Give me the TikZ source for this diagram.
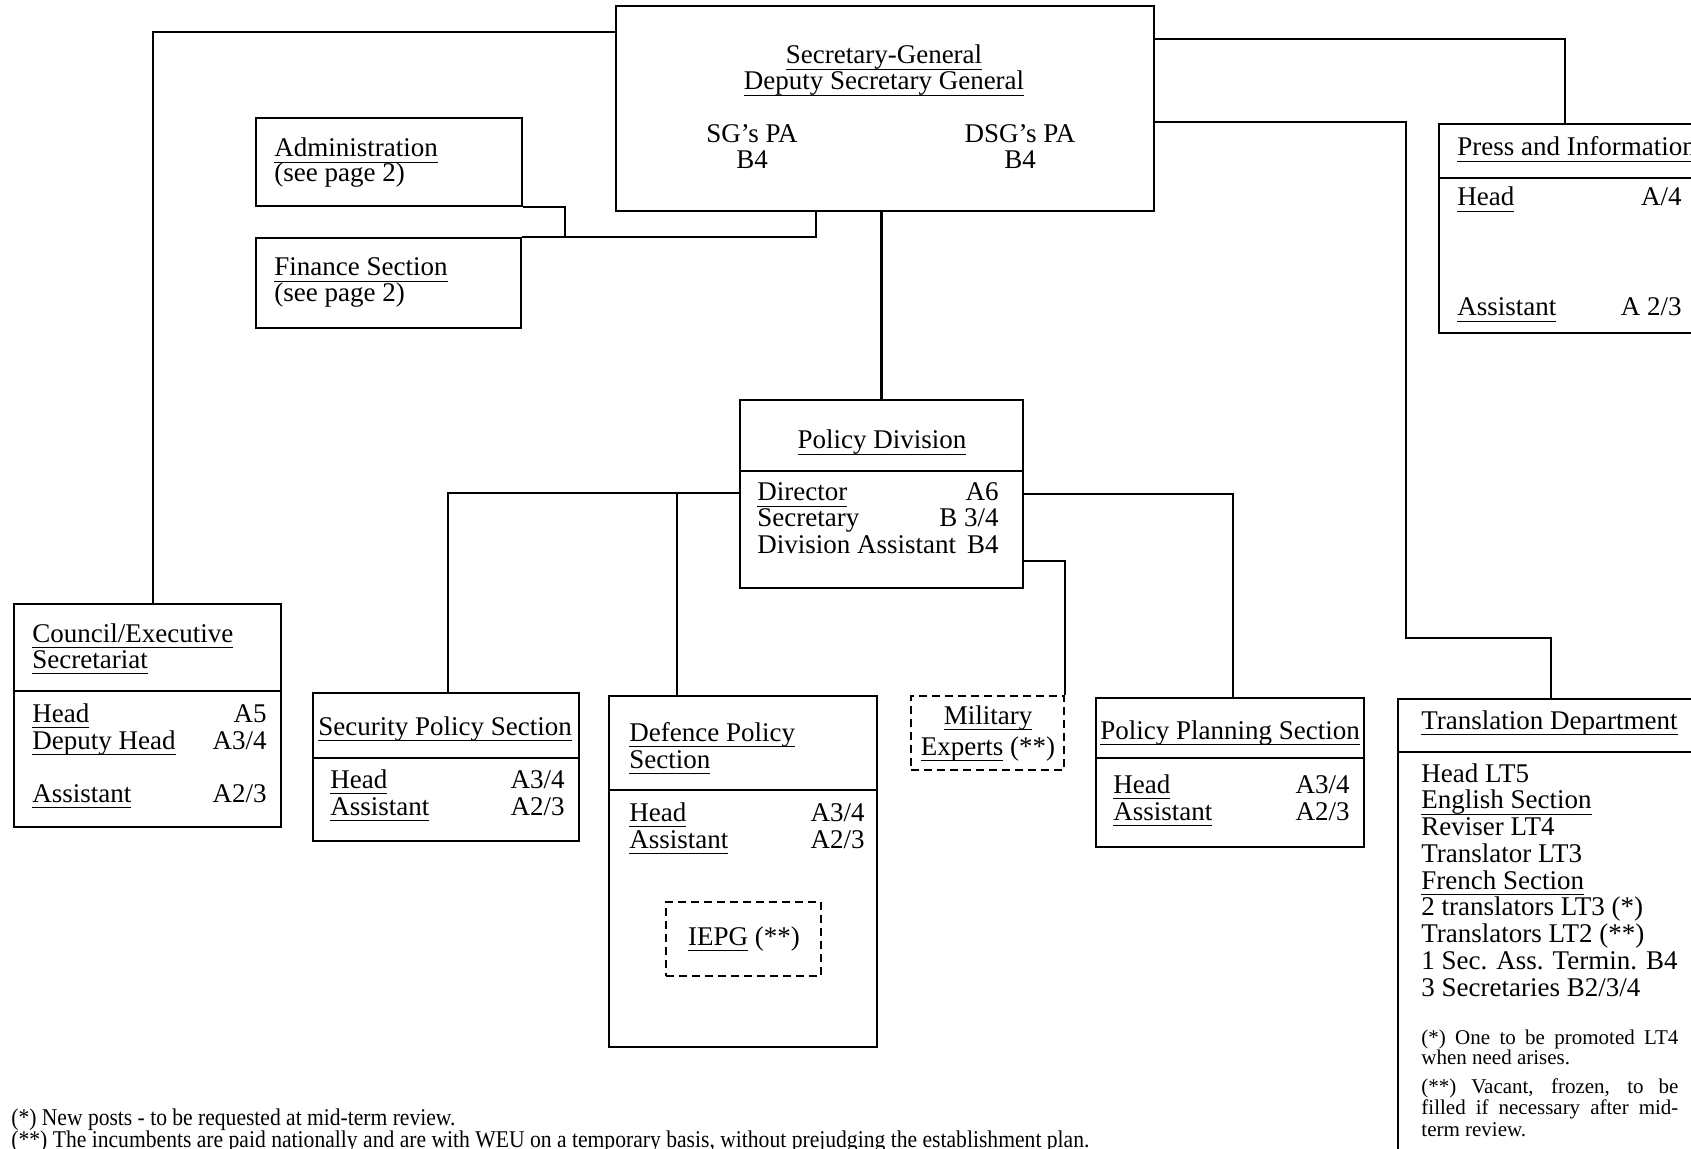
\documentclass[tikz,border=0pt]{standalone}
\usepackage{fontspec}
\usepackage{graphicx}
\setmainfont{Liberation Serif}
\usetikzlibrary{fit}
\newcommand{\uln}[1]{\underline{\raisebox{0pt}[\height][1.5pt]{#1}}}
\tikzset{
  unit box/.style={draw, line width=1.1pt, inner sep=0pt},
  dashed box/.style={draw, dash pattern=on 4pt off 2.5pt, line width=1.1pt, inner sep=0pt},
  link/.style={line width=1.1pt},
  rule line/.style={line width=1.1pt},
  lbl/.style={font=\fontsize{13.5}{13.4}\selectfont, inner sep=0pt},
  note/.style={font=\fontsize{10.5}{10}\selectfont, inner sep=0pt},
  foot/.style={font=\fontsize{12}{12}\selectfont, inner sep=0pt}
}
\begin{document}
\begin{tikzpicture}[x=0.5pt, y=-0.5pt]
  \useasboundingbox (0,0) rectangle (1691,1149);
  \clip (0,0) rectangle (1691,1149);

  % Secretary-General
  \node[unit box, fit={(616,6) (1154,211)}] (sg) {};
  \node[lbl, anchor=base] (sg-t1) at (884,64) {\uln{Secretary-General}};
  \node[lbl, anchor=base] (sg-t2) at (884,90) {\uln{Deputy Secretary General}};
  \node[lbl, anchor=base] (sg-pa) at (752,143) {SG's PA};
  \node[lbl, anchor=base] (sg-pag) at (752,169) {B4};
  \node[lbl, anchor=base] (dsg-pa) at (1020,143) {DSG's PA};
  \node[lbl, anchor=base] (dsg-pag) at (1020,169) {B4};

  % Administration and Finance
  \node[unit box, fit={(256,118) (522,206)}] (adm) {};
  \node[lbl, anchor=base west] (adm-t1) at (274,157) {\uln{Administration}};
  \node[lbl, anchor=base west] (adm-t2) at (274,182) {(see page 2)};
  \node[unit box, fit={(256,238) (521,328)}] (fin) {};
  \node[lbl, anchor=base west] (fin-t1) at (274,276) {\uln{Finance Section}};
  \node[lbl, anchor=base west] (fin-t2) at (274,302) {(see page 2)};

  % Policy Division
  \node[unit box, fit={(740,400) (1023,588)}] (pol) {};
  \draw[rule line] (pol.west |- 0,471) -- (pol.east |- 0,471);
  \node[lbl, anchor=base] (pol-t) at (882,449) {\uln{Policy Division}};
  \node[lbl, anchor=base west] (pol-r1) at (757,501) {\uln{Director}};
  \node[lbl, anchor=base east] (pol-g1) at (999,501) {A6};
  \node[lbl, anchor=base west] (pol-r2) at (757,527) {Secretary};
  \node[lbl, anchor=base east] (pol-g2) at (999,527) {B 3/4};
  \node[lbl, anchor=base west] (pol-r3) at (757,553) {Division Assistant};
  \node[lbl, anchor=base east] (pol-g3) at (999,553) {B4};

  % Council/Executive Secretariat
  \node[unit box, fit={(14,604) (281,827)}] (cou) {};
  \draw[rule line] (cou.west |- 0,691) -- (cou.east |- 0,691);
  \node[lbl, anchor=base west] (cou-t1) at (32,642) {\uln{Council/Executive}};
  \node[lbl, anchor=base west] (cou-t2) at (32,668) {\uln{Secretariat}};
  \node[lbl, anchor=base west] (cou-r1) at (32,722) {\uln{Head}};
  \node[lbl, anchor=base east] (cou-g1) at (267,722) {A5};
  \node[lbl, anchor=base west] (cou-r2) at (32,749) {\uln{Deputy Head}};
  \node[lbl, anchor=base east] (cou-g2) at (267,749) {A3/4};
  \node[lbl, anchor=base west] (cou-r3) at (32,802) {\uln{Assistant}};
  \node[lbl, anchor=base east] (cou-g3) at (267,802) {A2/3};

  % Security Policy Section
  \node[unit box, fit={(313,693) (579,841)}] (sec) {};
  \draw[rule line] (sec.west |- 0,758) -- (sec.east |- 0,758);
  \node[lbl, anchor=base] (sec-t) at (445,735) {\uln{Security Policy Section}};
  \node[lbl, anchor=base west] (sec-r1) at (330,788) {\uln{Head}};
  \node[lbl, anchor=base east] (sec-g1) at (565,788) {A3/4};
  \node[lbl, anchor=base west] (sec-r2) at (330,815) {\uln{Assistant}};
  \node[lbl, anchor=base east] (sec-g2) at (565,815) {A2/3};

  % Defence Policy Section
  \node[unit box, fit={(609,696) (877,1047)}] (def) {};
  \draw[rule line] (def.west |- 0,790) -- (def.east |- 0,790);
  \node[lbl, anchor=base west] (def-t1) at (629,741) {\uln{Defence Policy}};
  \node[lbl, anchor=base west] (def-t2) at (629,768) {\uln{Section}};
  \node[lbl, anchor=base west] (def-r1) at (629,821) {\uln{Head}};
  \node[lbl, anchor=base east] (def-g1) at (865,821) {A3/4};
  \node[lbl, anchor=base west] (def-r2) at (629,848) {\uln{Assistant}};
  \node[lbl, anchor=base east] (def-g2) at (865,848) {A2/3};
  \node[dashed box, fit={(666,902) (821,976)}] (iepg) {};
  \node[lbl, anchor=base] (iepg-t) at (744,945) {\uln{IEPG} (**)};

  % Military Experts
  \node[dashed box, fit={(911,696) (1064,770)}] (mil) {};
  \node[lbl, anchor=base] (mil-t1) at (988,724) {\uln{Military}};
  \node[lbl, anchor=base] (mil-t2) at (988,755) {\uln{Experts} (**)};

  % Policy Planning Section
  \node[unit box, fit={(1096,698) (1364,847)}] (plan) {};
  \draw[rule line] (plan.west |- 0,758) -- (plan.east |- 0,758);
  \node[lbl, anchor=base] (plan-t) at (1230,739) {\uln{Policy Planning Section}};
  \node[lbl, anchor=base west] (plan-r1) at (1113,793) {\uln{Head}};
  \node[lbl, anchor=base east] (plan-g1) at (1350,793) {A3/4};
  \node[lbl, anchor=base west] (plan-r2) at (1113,820) {\uln{Assistant}};
  \node[lbl, anchor=base east] (plan-g2) at (1350,820) {A2/3};

  % Press and Information (runs off the page)
  \node[unit box, fit={(1439,124) (1730,333)}] (press) {};
  \draw[rule line] (press.west |- 0,178) -- (press.east |- 0,178);
  \node[lbl, anchor=base west] (press-t) at (1457,156) {\uln{Press and Information}};
  \node[lbl, anchor=base west] (press-r1) at (1457,206) {\uln{Head}};
  \node[lbl, anchor=base east] (press-g1) at (1682,206) {A/4};
  \node[lbl, anchor=base west] (press-r2) at (1457,316) {\uln{Assistant}};
  \node[lbl, anchor=base east] (press-g2) at (1682,316) {A 2/3};

  % Translation Department (runs off the page)
  \node[unit box, fit={(1398,699) (1730,1190)}] (tra) {};
  \draw[rule line] (tra.west |- 0,752) -- (tra.east |- 0,752);
  \node[lbl, anchor=base west] (tra-t) at (1421,729) {\uln{Translation Department}};
  \foreach \txt [count=\i from 0] in {Head LT5, \uln{English Section}, Reviser LT4,
      Translator LT3, \uln{French Section}, 2 translators LT3 (*), Translators LT2 (**),
      1 Sec. Ass. Termin. B4, 3 Secretaries B2/3/4}
    \node[lbl, anchor=base west] (tra-\i) at (1421,{782+26.75*\i}) {\txt};
  \node[note, anchor=base west] (tra-n1) at (1421,1044) {\makebox[128.5pt][s]{(*) One to be promoted LT4}};
  \node[note, anchor=base west] (tra-n2) at (1421,1064) {when need arises.};
  \node[note, anchor=base west] (tra-n3) at (1421,1093) {\makebox[128.5pt][s]{(**) Vacant, frozen, to be}};
  \node[note, anchor=base west] (tra-n4) at (1421,1114) {\makebox[128.5pt][s]{filled if necessary after mid-}};
  \node[note, anchor=base west] (tra-n5) at (1421,1136) {term review.};

  % connectors
  \draw[link] (sg.west |- 0,32) -| (cou.north -| 153,0);
  \draw[link] (sg.east |- 0,39) -| (press.north -| 1565,0);
  \coordinate (tbend) at (1406,638);
  \draw[link] (sg.east |- 0,122) -| (tbend) -| (tra.north -| 1551,0);
  \draw[link] (sg.south -| 816,0) |- (fin.north east);
  \draw[link] (fin.north east -| 565,0) |- (adm.south east);
  \draw[link] (pol.north |- sg.south) -- (pol.north);
  \coordinate (pleft) at (pol.west |- 0,493);
  \draw[link] (pleft) -| (sec.north -| 448,0);
  \draw[link] (pleft -| 677,0) -- (def.north -| 677,0);
  \draw[link] (pol.east |- 0,494) -| (plan.north -| 1233,0);
  \draw[link] (pol.east |- 0,561) -| (mil.north east);

  % footnotes
  \node[foot, anchor=base west] (fn1) at (11,1125)
    {\resizebox{222pt}{\height}{(*) New posts - to be requested at mid-term review.}};
  \node[foot, anchor=base west] (fn2) at (11,1147)
    {\resizebox{539pt}{\height}{(**) The incumbents are paid nationally and are with WEU on a temporary basis, without prejudging the establishment plan.}};
\end{tikzpicture}
\end{document}
